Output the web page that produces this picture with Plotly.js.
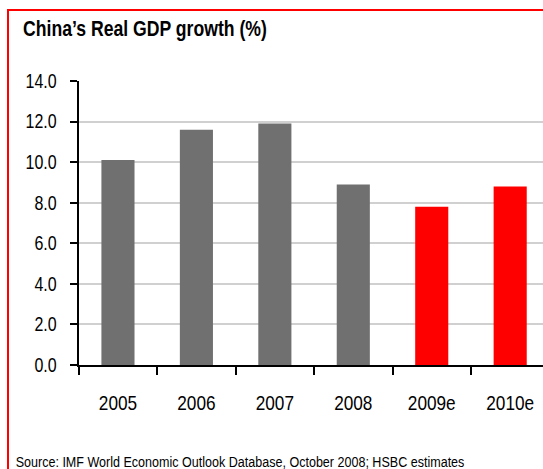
<!DOCTYPE html>
<html>
<head>
<meta charset="utf-8">
<script src="https://cdn.plot.ly/plotly-3.0.1.min.js"></script>
<style>
  html, body { margin: 0; padding: 0; background: #ffffff; }
  #wrap { position: relative; width: 543px; height: 469px; overflow: hidden; background: #ffffff; }
  #frame { position: absolute; left: 7px; top: 9px; width: 560px; height: 480px;
           border-left: 2px solid #ff0000; border-top: 2px solid #ff0000; box-sizing: border-box; z-index: 2; pointer-events: none; }
  #chart { position: absolute; left: 0; top: 0; transform-origin: 0 0; }
</style>
</head>
<body>
<div id="wrap">
  <div id="chart"></div>
  <div id="frame"></div>
</div>
<script>
const categories = ['2005', '2006', '2007', '2008', '2009e', '2010e'];
const gdpGrowth = [10.1, 11.6, 11.9, 8.9, 7.8, 8.8];
const barColors = ['#707070', '#707070', '#707070', '#707070', '#ff0000', '#ff0000'];
const yTicks = [0, 2, 4, 6, 8, 10, 12, 14];
const titleText = 'China\u2019s Real GDP growth (%)';
const sourceText = 'Source: IMF World Economic Outlook Database, October 2008; HSBC estimates';

// the reference typography is horizontally condensed; draw wider and squeeze in x
const S = 0.82;
const PW = 543, H = 469;
const W = Math.round(PW / S);
const sx = PW / W;
document.getElementById('chart').style.transform = 'scaleX(' + sx + ')';

const mL = 79 / sx, mT = 81, mB = 104, mR = 0;
const plotW = W - mL - mR, plotH = H - mT - mB;
const catStep = 78.4 / sx;

const trace = {
  type: 'bar',
  x: categories,
  y: gdpGrowth,
  marker: { color: barColors, line: { width: 0 } },
  hoverinfo: 'skip'
};

const layout = {
  width: W, height: H,
  margin: { l: mL, r: mR, t: mT, b: mB, pad: 0 },
  paper_bgcolor: '#ffffff',
  plot_bgcolor: '#ffffff',
  showlegend: false,
  bargap: 0.578,
  font: { family: 'Liberation Sans, Arial, sans-serif', color: '#000000' },
  title: {
    text: '<b>' + titleText + '</b>',
    font: { size: 21.5, family: 'Liberation Sans, Arial, sans-serif', color: '#000000' },
    xref: 'container', yref: 'container',
    x: 23 / PW, xanchor: 'left',
    y: 1 - 28.5 / H, yanchor: 'middle'
  },
  xaxis: {
    type: 'category',
    range: [-0.5, -0.5 + plotW / catStep],
    showgrid: false,
    zeroline: false,
    showline: true, linecolor: '#000000', linewidth: 2,
    ticks: 'outside', tickson: 'boundaries', ticklen: 8, tickwidth: 2 / sx, tickcolor: '#000000',
    tickfont: { size: 21, color: '#000000' },
    ticklabelstandoff: 18,
    fixedrange: true
  },
  yaxis: {
    range: [0, 14],
    tickmode: 'array', tickvals: yTicks,
    tickformat: '.1f',
    showgrid: true, gridcolor: '#d0d0d0', gridwidth: 2,
    zeroline: false,
    showline: true, linecolor: '#000000', linewidth: 2 / sx,
    ticks: 'outside', ticklen: 7 / sx, tickwidth: 2, tickcolor: '#000000',
    tickfont: { size: 19.5, color: '#000000' },
    ticklabelstandoff: 12,
    fixedrange: true
  },
  annotations: [{
    text: sourceText,
    xref: 'paper', yref: 'paper',
    x: (14 / sx - mL) / plotW, xanchor: 'left',
    y: -(461 - (mT + plotH)) / plotH, yanchor: 'middle',
    showarrow: false,
    font: { size: 15.3, color: '#000000' }
  }]
};

Plotly.newPlot('chart', [trace], layout, { displayModeBar: false, staticPlot: true });
</script>
</body>
</html>
